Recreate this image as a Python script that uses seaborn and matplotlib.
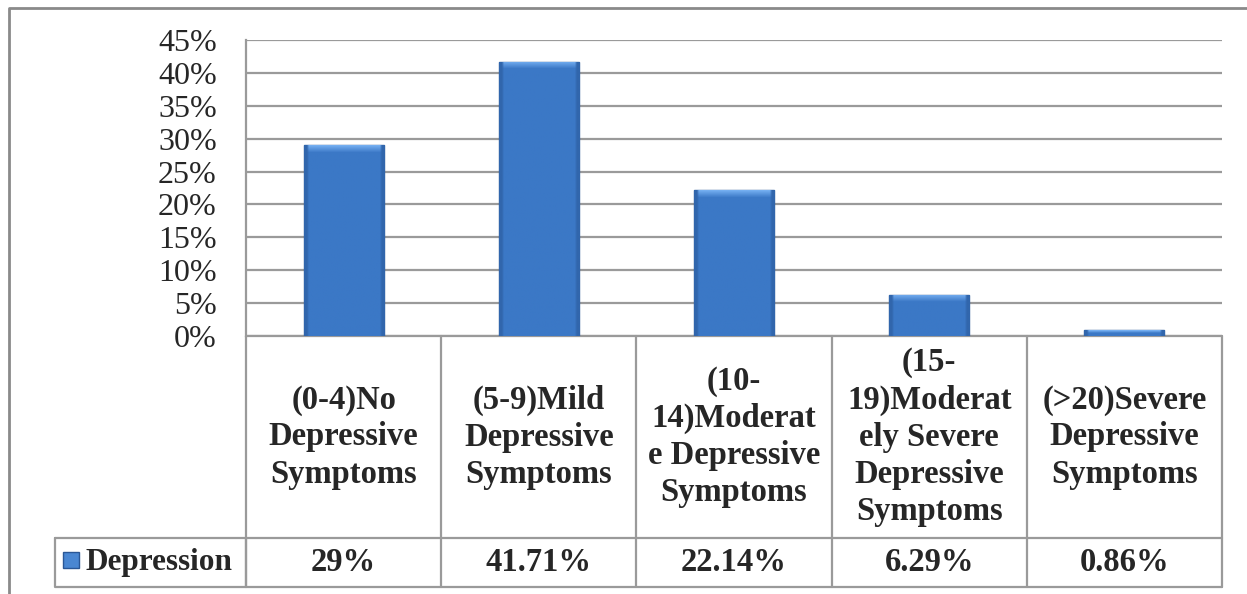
import pandas as pd
import numpy as np
import matplotlib
matplotlib.use('Agg')
import matplotlib.pyplot as plt
import matplotlib.transforms as mtransforms
from matplotlib.colors import to_rgb
import seaborn as sns

# data
categories = ['(0-4)No\nDepressive\nSymptoms',
              '(5-9)Mild\nDepressive\nSymptoms',
              '(10-\n14)Moderat\ne Depressive\nSymptoms',
              '(15-\n19)Moderat\nely Severe\nDepressive\nSymptoms',
              '(>20)Severe\nDepressive\nSymptoms']
values = [29, 41.71, 22.14, 6.29, 0.86]
value_labels = ['29%', '41.71%', '22.14%', '6.29%', '0.86%']
series_name = 'Depression'
yticks = [0, 5, 10, 15, 20, 25, 30, 35, 40, 45]

df = pd.DataFrame({'cat': categories, 'val': values})

sns.set_style('white')
plt.rcParams['font.family'] = ['Liberation Serif', 'DejaVu Serif']

W, H = 1247, 594
fig = plt.figure(figsize=(W / 100, H / 100), dpi=100)
# plot area in pixels: x 246..1222, y 40..336 (from top)
ax = fig.add_axes([246 / W, 1 - 336 / H, (1222 - 246) / W, (336 - 40) / H])

bar_blue = '#3b78c6'
sns.barplot(data=df, x='cat', y='val', ax=ax, color=bar_blue, width=0.41,
            edgecolor='#2a5796', linewidth=1.0, saturation=1, zorder=3)

ax.set_ylim(0, 45)
ax.set_xlim(-0.5, len(categories) - 0.5)

# bevel shading painted inside each bar
px_per_unit = (336 - 40) / 45
base = np.array(to_rgb(bar_blue))
light = np.array(to_rgb('#74aef0'))
dark = np.array(to_rgb('#2b5a9c'))
for p in list(ax.patches):
    x0, w, h = p.get_x(), p.get_width(), p.get_height()
    rows = max(int(h * px_per_unit), 2)
    cols = 40
    img = np.tile(base, (rows, cols, 1))
    edge = 2
    img[:, :edge] = dark * 0.6 + base * 0.4
    img[:, -edge:] = dark * 0.6 + base * 0.4
    band = min(7, max(rows // 2, 1))
    for r in range(band):
        f = 1 - r / band
        img[r, edge:-edge] = light * f + base * (1 - f)
    im = ax.imshow(img, extent=[x0, x0 + w, 0, h], aspect='auto', zorder=3.5,
                   interpolation='bilinear')
    im.set_clip_path(p)
ax.set_ylim(0, 45)
ax.set_xlim(-0.5, len(categories) - 0.5)

ax.set_yticks(yticks)
ax.set_yticklabels([f'{t}%' for t in yticks], fontsize=23)
ax.tick_params(axis='y', length=0, pad=21)
ax.set_xticks([])
ax.set_xlabel('')
ax.set_ylabel('')
ax.yaxis.grid(True, color='#9a9a9a', linewidth=1.6, zorder=0)
ax.set_axisbelow(True)
for s in ['top', 'right', 'bottom']:
    ax.spines[s].set_visible(False)
ax.spines['left'].set_color('#9a9a9a')
ax.spines['left'].set_linewidth(1.6)

# data table under the plot
gray = '#9a9a9a'
tr = mtransforms.blended_transform_factory(ax.transData, fig.transFigure)
y_top = 1 - 336 / H
y_mid = 1 - 538 / H
y_bot = 1 - 587 / H
n = len(categories)
for i in range(n + 1):
    ax.plot([i - 0.5, i - 0.5], [y_top, y_bot], color=gray, lw=1.6,
            transform=tr, clip_on=False)
for yy in [y_top, y_mid, y_bot]:
    ax.plot([-0.5, n - 0.5], [yy, yy], color=gray, lw=1.6,
            transform=tr, clip_on=False)
for i, (lab, vl) in enumerate(zip(categories, value_labels)):
    ax.text(i, (y_top + y_mid) / 2, lab, transform=tr, ha='center', va='center',
            fontsize=23.5, fontweight='bold', linespacing=1.25)
    ax.text(i, (y_mid + y_bot) / 2, vl, transform=tr, ha='center', va='center',
            fontsize=23.5, fontweight='bold')

# legend cell
fig.lines.append(plt.Line2D([55 / W, 246 / W, 246 / W, 55 / W, 55 / W],
                            [y_mid, y_mid, y_bot, y_bot, y_mid],
                            color=gray, lw=1.6, transform=fig.transFigure))
fig.patches.append(plt.Rectangle((63 / W, 1 - 568 / H), 16 / W, 16 / H,
                                 facecolor='#4a87d2', edgecolor='#2a5796', lw=1,
                                 transform=fig.transFigure))
fig.text(86 / W, (y_mid + y_bot) / 2, series_name, ha='left', va='center',
         fontsize=22.5, fontweight='bold')

# outer chart border (top and left visible)
fig.lines.append(plt.Line2D([1.0, 9 / W, 9 / W], [1 - 8 / H, 1 - 8 / H, 0],
                            color='#8a8a8a', lw=2, transform=fig.transFigure))

fig.savefig('out.png', dpi=100)
